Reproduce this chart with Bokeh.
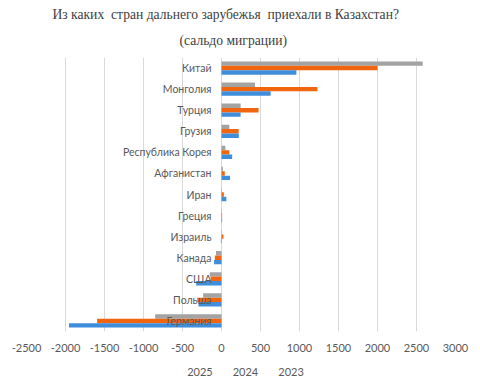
from bokeh.plotting import figure
from bokeh.layouts import column
from bokeh.models import Range1d, FactorRange, Title, Legend, LegendItem, FixedTicker, ColumnDataSource
from bokeh.transform import dodge
from bokeh.core.properties import value
from bokeh.embed import file_html
from bokeh.resources import INLINE

countries = ["Китай", "Монголия", "Турция", "Грузия", "Республика Корея", "Афганистан",
             "Иран", "Греция", "Израиль", "Канада", "США", "Польша", "Германия"]
v2025 = [2580, 430, 245, 100, 50, 18, 6, 5, -5, -70, -150, -235, -850]
v2024 = [2000, 1230, 475, 220, 100, 42, 30, 8, 25, -85, -140, -310, -1595]
v2023 = [960, 630, 245, 222, 137, 110, 62, 8, -8, -95, -325, -295, -1955]
years = ["2025", "2024", "2023"]
colors = ["#a3a3a3", "#f0650e", "#3f8edb"]
ticks = [-2500, -2000, -1500, -1000, -500, 0, 500, 1000, 1500, 2000, 2500, 3000]
title1 = "Из каких\u00a0 стран дальнего зарубежья\u00a0 приехали в Казахстан?"
title2 = "(сальдо миграции)"

FW, FH = 429, 274
src = ColumnDataSource(dict(c=countries, v2025=v2025, v2024=v2024, v2023=v2023, zero=[0] * len(countries)))

p = figure(frame_width=FW, frame_height=FH, output_backend="svg", toolbar_location=None,
           y_range=FactorRange(factors=countries[::-1], range_padding=0),
           x_range=Range1d(-2500, 3000),
           min_border_left=26, min_border_right=22, min_border_top=57, min_border_bottom=30)
p.outline_line_color = None
p.title.visible = False

for yr, col, off in zip(years, colors, [0.21, 0.0, -0.21]):
    p.hbar(y=dodge("c", off, range=p.y_range), right="v" + yr, left=0, height=0.21,
           source=src, fill_color=col, line_color=None)

p.text(x="zero", y="c", text="c", source=src, x_offset=-10, text_align="right", text_baseline="middle",
       text_font=value("Lato"), text_font_size="10.5px", text_color="#595959")

p.yaxis.visible = False
p.ygrid.grid_line_color = None
p.xgrid.grid_line_color = "#d9d9d9"
p.xaxis.ticker = FixedTicker(ticks=ticks)
p.xaxis.major_label_overrides = {t: str(t) for t in ticks}
p.xaxis.axis_line_color = None
p.xaxis.major_tick_line_color = None
p.xaxis.minor_tick_line_color = None
p.xaxis.major_tick_out = 4
p.xaxis.major_tick_in = 0
p.xaxis.minor_tick_out = 0
p.xaxis.major_label_text_font = "Lato"
p.xaxis.major_label_text_font_size = "11px"
p.xaxis.major_label_text_color = "#595959"
p.xaxis.major_label_standoff = 8

t2 = Title(text=title2, align="left", offset=153, text_font="Liberation Serif",
           text_font_size="13.6px", text_font_style="normal", text_color="#404040", standoff=19)
t1 = Title(text=title1, align="left", offset=26, text_font="Liberation Serif",
           text_font_size="13.6px", text_font_style="normal", text_color="#404040", standoff=0)
p.add_layout(t2, "above")
p.add_layout(t1, "above")

# legend strip below the chart
lg = figure(frame_width=FW, frame_height=20, output_backend="svg", toolbar_location=None,
            x_range=Range1d(0, 1), y_range=Range1d(0, 1),
            min_border_left=26, min_border_right=22, min_border_top=0, min_border_bottom=0)
lg.axis.visible = False
lg.grid.grid_line_color = None
lg.outline_line_color = None
lg.title.visible = False
items = []
for yr, col in zip(years, colors):
    r = lg.hbar(y=[], right=[], left=0, height=0.2, fill_color=col, line_color=None)
    items.append(LegendItem(label=yr, renderers=[r]))
legend = Legend(items=items, orientation="horizontal", location="center", border_line_color=None,
                label_text_font="Lato", label_text_font_size="11px", label_text_color="#595959",
                glyph_width=7, glyph_height=7, label_standoff=3, spacing=10, padding=0, margin=0,
                background_fill_alpha=0, label_height=12)
lg.add_layout(legend, "center")

open("out.html", "w").write(file_html(column(p, lg, spacing=0), INLINE))
